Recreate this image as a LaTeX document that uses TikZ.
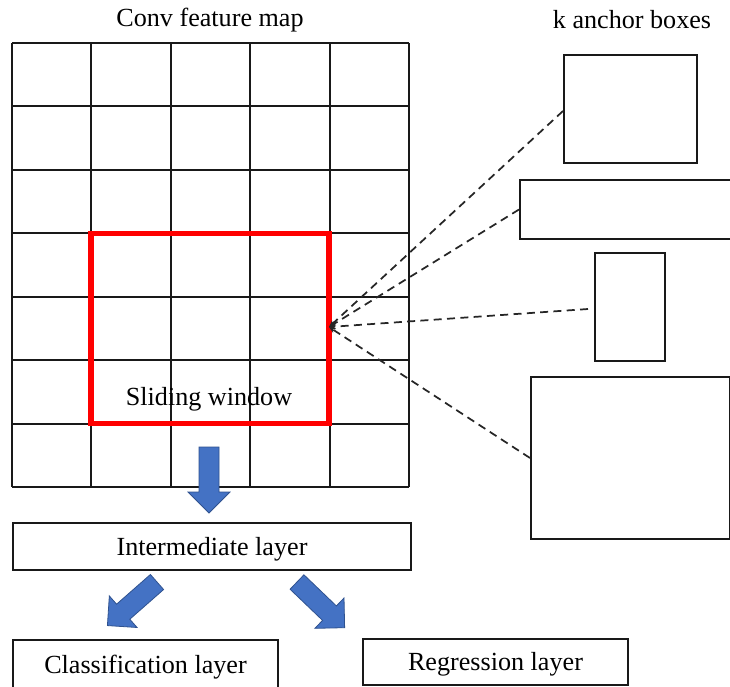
\documentclass[tikz,border=0pt]{standalone}
\usepackage{fontspec}
\setmainfont{Liberation Serif}
\usetikzlibrary{arrows.meta}
\definecolor{arrowblue}{HTML}{4472C4}
\definecolor{arrowedge}{HTML}{2F528F}
\definecolor{winred}{HTML}{FF0000}
% block arrow: tail centre at #1, pointing at canvas angle #2
\newcommand{\blockarrow}[2]{%
  \begin{scope}[shift={#1},rotate=#2]
    \fill[arrowblue,draw=arrowedge,line width=0.6pt]
      (0,-10) -- (45,-10) -- (45,-21) -- (66,0) -- (45,21) -- (45,10) -- (0,10) -- cycle;
  \end{scope}}
\begin{document}
\begin{tikzpicture}[x=0.75pt,y=-0.75pt,
  every node/.style={font=\fontsize{19.6}{23}\selectfont},
  gridline/.style={line width=1.5pt,black!90},
  anchorbox/.style={draw=black!90,line width=1.5pt,inner sep=0pt,anchor=north west},
  layerbox/.style={draw=black!90,line width=1.5pt,inner sep=0pt,anchor=north west},
  ray/.style={dashed,dash pattern=on 6pt off 4pt,line width=1.3pt,black!85,-{Stealth[length=5pt,width=4pt]}}]
\useasboundingbox (0,0) rectangle (730,686);
\clip (0,0) rectangle (730,686);
\fill[white] (0,0) rectangle (730,686);

% titles
\node (ttlmap) at (210,20) {Conv feature map};
\node (ttlbox) at (632,20) {k anchor boxes};

% convolutional feature map grid: 5 columns x 7 rows
\foreach \i in {0,...,5}
  \draw[gridline] ({12+\i*79.4},43) -- ({12+\i*79.4},487);
\foreach \j in {0,...,7}
  \draw[gridline] (12,{43+\j*63.43}) -- (409,{43+\j*63.43});

% sliding window
\draw[winred,line width=3.8pt] (91,233.3) rectangle (329,423.6);
\node (swtext) at (209,399) {Sliding window};
\coordinate (centre) at (329,327);

% anchor boxes
\node[anchorbox,minimum width=99.75pt,minimum height=81pt] (a1) at (563,54) {};
\node[anchorbox,minimum width=165.75pt,minimum height=44.25pt] (a2) at (519,179) {};
\node[anchorbox,minimum width=52.5pt,minimum height=81pt] (a3) at (594,252) {};
\node[anchorbox,minimum width=149.25pt,minimum height=121.5pt] (a4) at (530,376) {};

% rays from the anchor boxes to the window centre
\draw[ray] ([yshift=-1.5pt]a1.west) -- (centre);
\draw[ray] (a2.west) -- (centre);
\draw[ray] ([xshift=-4.5pt,yshift=-1.5pt]a3.west) -- (centre);
\draw[ray] (a4.west) -- (centre);

% layer boxes
\node[layerbox,minimum width=298.5pt,minimum height=35.25pt,
  label={[yshift=-2.3pt]center:Intermediate layer}] (inter) at (12,522) {};
\node[layerbox,minimum width=198.75pt,minimum height=37.5pt,
  label={[yshift=-1.5pt]center:Classification layer}] (cls) at (12,639) {};
\node[layerbox,minimum width=198.75pt,minimum height=34.5pt,
  label={[yshift=-1.5pt]center:Regression layer}] (reg) at (362,638) {};

% block arrows between the stages
\blockarrow{(209,447)}{-90}
\blockarrow{(157,582)}{221.3}
\blockarrow{(297,582)}{-43.8}
\end{tikzpicture}
\end{document}
